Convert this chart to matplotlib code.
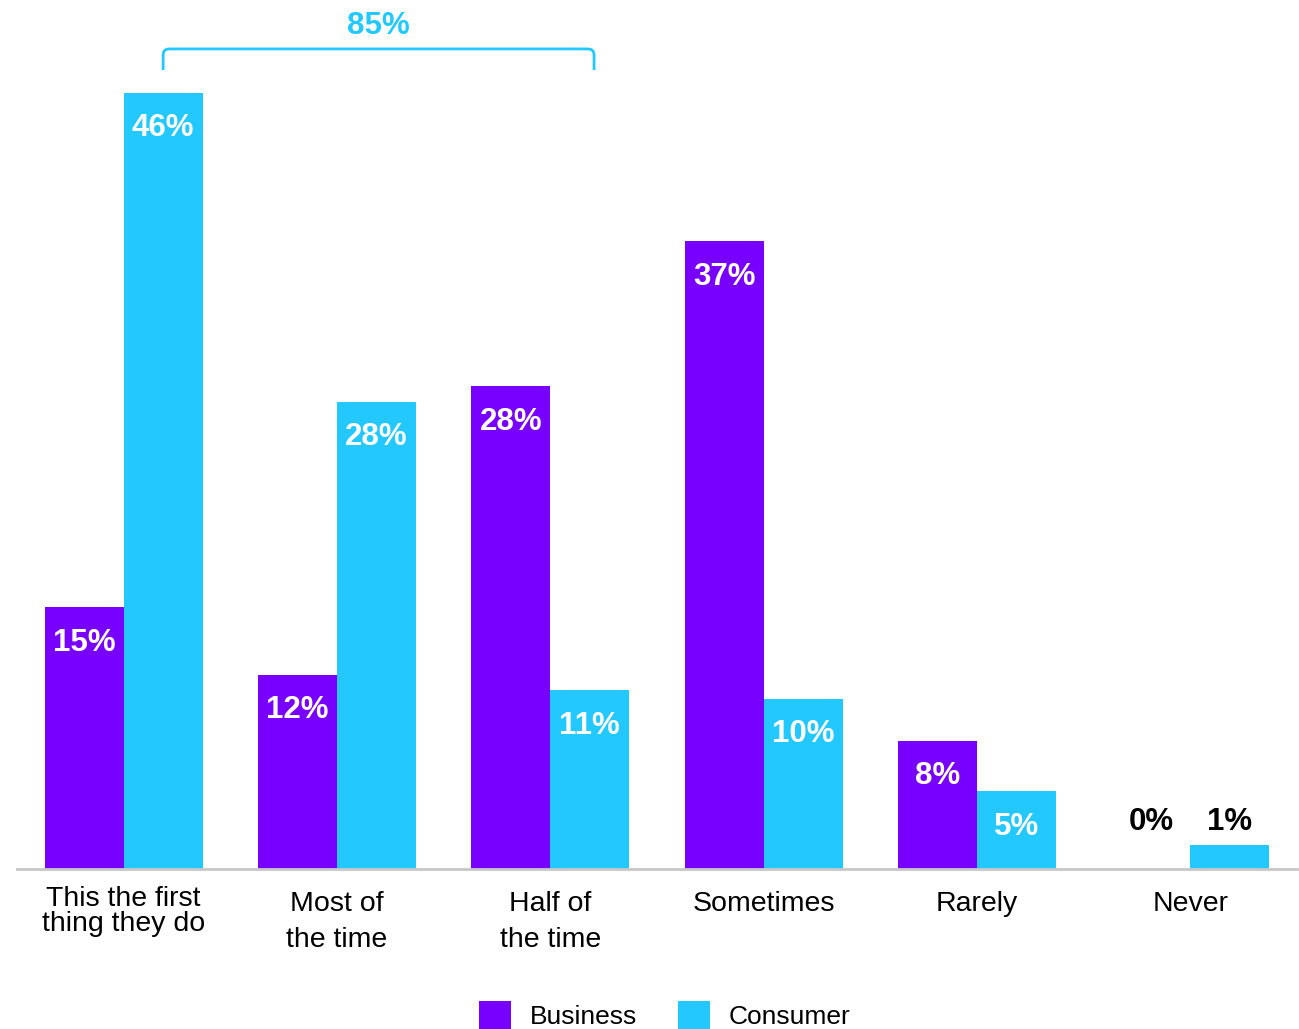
import matplotlib.pyplot as plt
import numpy as np
from matplotlib.path import Path
from matplotlib.patches import PathPatch

plt.rcParams['font.family'] = ['Liberation Sans', 'DejaVu Sans']

categories = ["This the first\nthing they do", "Most of\nthe time", "Half of\nthe time",
              "Sometimes", "Rarely", "Never"]
business = [15.5, 11.5, 28.6, 37.2, 7.6, 0.0]
consumer = [46.0, 27.7, 10.6, 10.1, 4.6, 1.4]
business_labels = ["15%", "12%", "28%", "37%", "8%", "0%"]
consumer_labels = ["46%", "28%", "11%", "10%", "5%", "1%"]
bracket_label = "85%"

purple = "#7700FF"
cyan = "#22C8FF"

fig = plt.figure(figsize=(12.99, 10.29), dpi=100)
ax = fig.add_axes([17 / 1299, 1 - 869 / 1029, 1280 / 1299, 869 / 1029])

x = np.arange(len(categories))
w = 0.37
bb = ax.bar(x - w / 2, business, w, color=purple, label="Business", zorder=2)
bc = ax.bar(x + w / 2, consumer, w, color=cyan, label="Consumer", zorder=2)

ax.set_xlim(-0.5, 5.5)
ax.set_ylim(0, 51.5)

for bars, labs in ((bb, business_labels), (bc, consumer_labels)):
    for rect, lab in zip(bars, labs):
        h = rect.get_height()
        cx = rect.get_x() + rect.get_width() / 2
        if h > 3:
            ax.annotate(lab, (cx, h), xytext=(0, -25.5), textcoords="offset points",
                        ha="center", va="center", color="white", fontsize=22.5,
                        fontweight="bold")
        else:
            ax.annotate(lab, (cx, 1.4), xytext=(0, 16.5), textcoords="offset points",
                        ha="center", va="center", color="black", fontsize=22.5,
                        fontweight="bold")

# category labels below axis
for i, cat in enumerate(categories):
    if i == 0:
        ax.text(i, -1.0, cat, ha="center", va="top", fontsize=20.5,
                linespacing=0.95, clip_on=False)
    else:
        ax.text(i, -1.3, cat, ha="center", va="top", fontsize=20.5,
                linespacing=1.5, clip_on=False)

# bracket over first three consumer bars
x0, x1 = 0 + w / 2, 2 + w / 2 + 0.02
yt, yb = 48.6, 47.35
r = 0.35
verts = [(x0, yb), (x0, yt - r), (x0, yt), (x0 + 0.03, yt), (x1 - 0.03, yt),
         (x1, yt), (x1, yt - r), (x1, yb)]
codes = [Path.MOVETO, Path.LINETO, Path.CURVE3, Path.CURVE3, Path.LINETO,
         Path.CURVE3, Path.CURVE3, Path.LINETO]
ax.add_patch(PathPatch(Path(verts, codes), fill=False, edgecolor=cyan, lw=2,
                       clip_on=False))
ax.text((x0 + x1) / 2, 49.95, bracket_label, ha="center", va="center", color=cyan,
        fontsize=22.5, fontweight="bold", clip_on=False)

for s in ("top", "right", "left"):
    ax.spines[s].set_visible(False)
ax.spines["bottom"].set_color("#C8C8C8")
ax.spines["bottom"].set_linewidth(2)
ax.set_xticks([])
ax.set_yticks([])

fig.legend(handles=[bb, bc], labels=["Business", "Consumer"], loc="upper center",
           bbox_to_anchor=(0.512, 1 - 980 / 1029), ncol=2, frameon=False,
           fontsize=19, handlelength=1.2, handleheight=1.25, handletextpad=0.72,
           columnspacing=1.55, borderpad=0.3)

fig.savefig("out.png", dpi=100)
